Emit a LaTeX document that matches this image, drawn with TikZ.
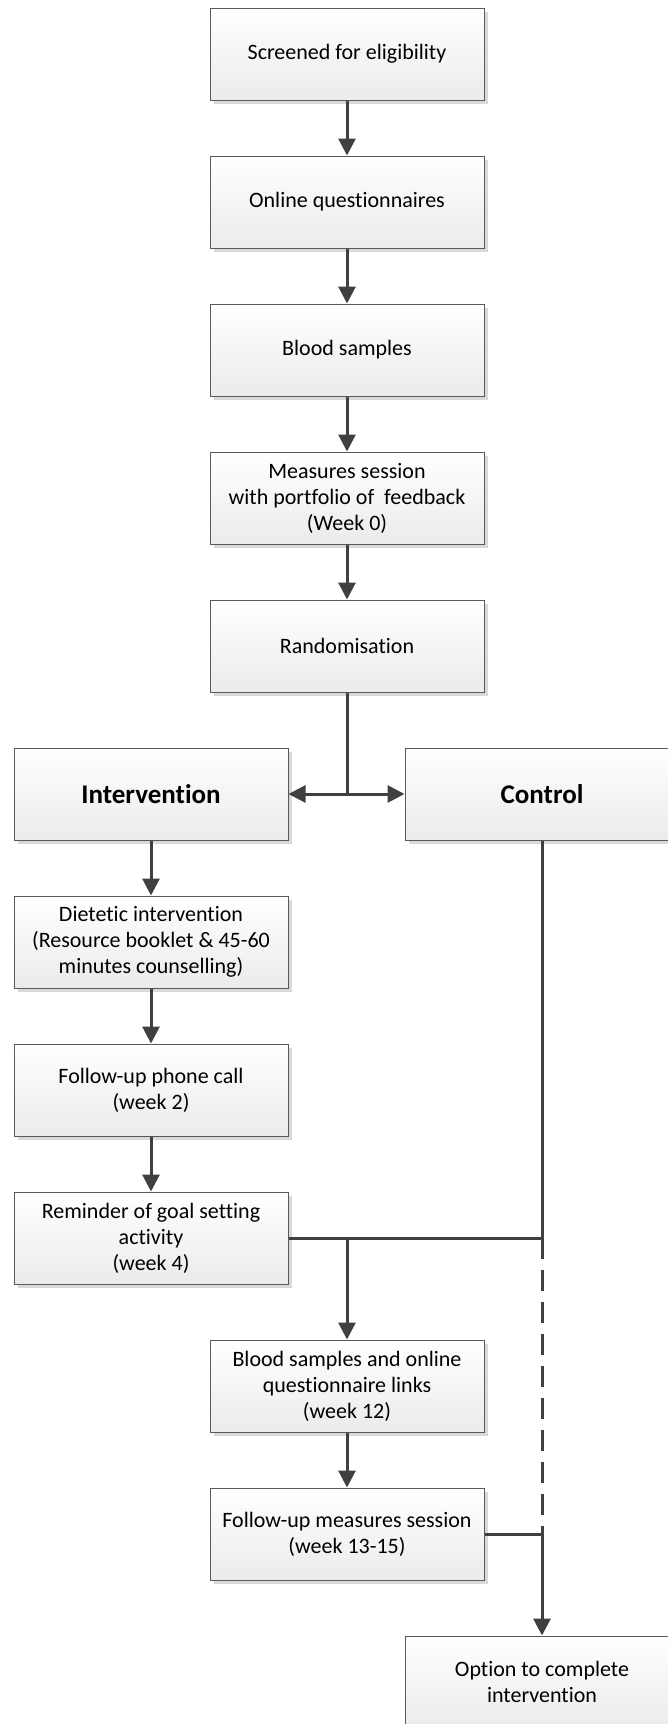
\documentclass[tikz,border=0pt]{standalone}
\usepackage{fontspec}
\setmainfont{Carlito}[RawFeature={-liga;-clig;-dlig}]
\usetikzlibrary{arrows.meta,shadows}
\definecolor{linegray}{HTML}{404040}
\definecolor{boxborder}{HTML}{595959}
\definecolor{boxbottom}{HTML}{EBEBEB}
\definecolor{shadowgray}{HTML}{D9D9D9}
\begin{document}
\begin{tikzpicture}[x=0.5pt,y=-0.5pt,
 box/.style={draw=boxborder, line width=0.5pt, top color=white, bottom color=boxbottom,
   minimum width=137pt, minimum height=46pt, inner sep=0pt, align=center,
   font=\fontsize{11}{13}\selectfont,
   drop shadow={shadow xshift=2pt, shadow yshift=-2pt, fill=shadowgray, opacity=1, draw=none}},
 bigbox/.style={box, font=\fontsize{13.5}{16}\selectfont\bfseries},
 conn/.style={draw=linegray, line width=1.5pt},
 arr/.style={conn, -{Triangle[length=8.5pt,width=8.5pt]}},
 dashline/.style={dash pattern=on 10.5pt off 5.5pt},
]
\useasboundingbox (0,0) rectangle (668,1724);
\clip (0,0) rectangle (668,1724);

\node[box] (n1) at (347,54) {Screened for eligibility};
\node[box] (n2) at (347,202) {Online questionnaires};
\node[box] (n3) at (347,350) {Blood samples};
\node[box] (n4) at (347,498) {Measures session\\with portfolio of~ feedback\\(Week 0)};
\node[box] (n5) at (347,646) {Randomisation};
\node[bigbox] (int) at (151,794) {Intervention};
\node[bigbox] (ctrl) at (542,794) {Control};
\node[box] (diet) at (151,942) {Dietetic intervention\\(Resource booklet \& 45-60\\minutes counselling)};
\node[box] (phone) at (151,1090) {Follow-up phone call\\(week 2)};
\node[box] (remind) at (151,1238) {Reminder of goal setting\\activity\\(week 4)};
\node[box] (blood2) at (347,1386) {Blood samples and online\\questionnaire links\\(week 12)};
\node[box] (fum) at (347,1534) {Follow-up measures session\\(week 13-15)};
\node[box] (opt) at (542,1682) {Option to complete\\intervention};

\coordinate (split) at (347,794);
\coordinate (c1) at (542,1238);
\coordinate (br) at (347,1238);
\coordinate (c2) at (542,1534);

\draw[arr] (n1) -- (n2);
\draw[arr] (n2) -- (n3);
\draw[arr] (n3) -- (n4);
\draw[arr] (n4) -- (n5);
\draw[conn] (n5.south) -- (split);
\draw[arr] (split) -- (int.east);
\draw[arr] (split) -- (ctrl.west);
\draw[arr] (int) -- (diet);
\draw[arr] (diet) -- (phone);
\draw[arr] (phone) -- (remind);
\draw[conn] (ctrl.south) -- (c1);
\draw[conn] (remind.east) -- (c1);
\draw[arr] (br) -- (blood2);
\draw[arr] (blood2) -- (fum);
\draw[conn,dashline] (c1) -- (c2);
\draw[conn] (fum.east) -- (c2);
\draw[arr] (c2) -- (opt);
\end{tikzpicture}
\end{document}
